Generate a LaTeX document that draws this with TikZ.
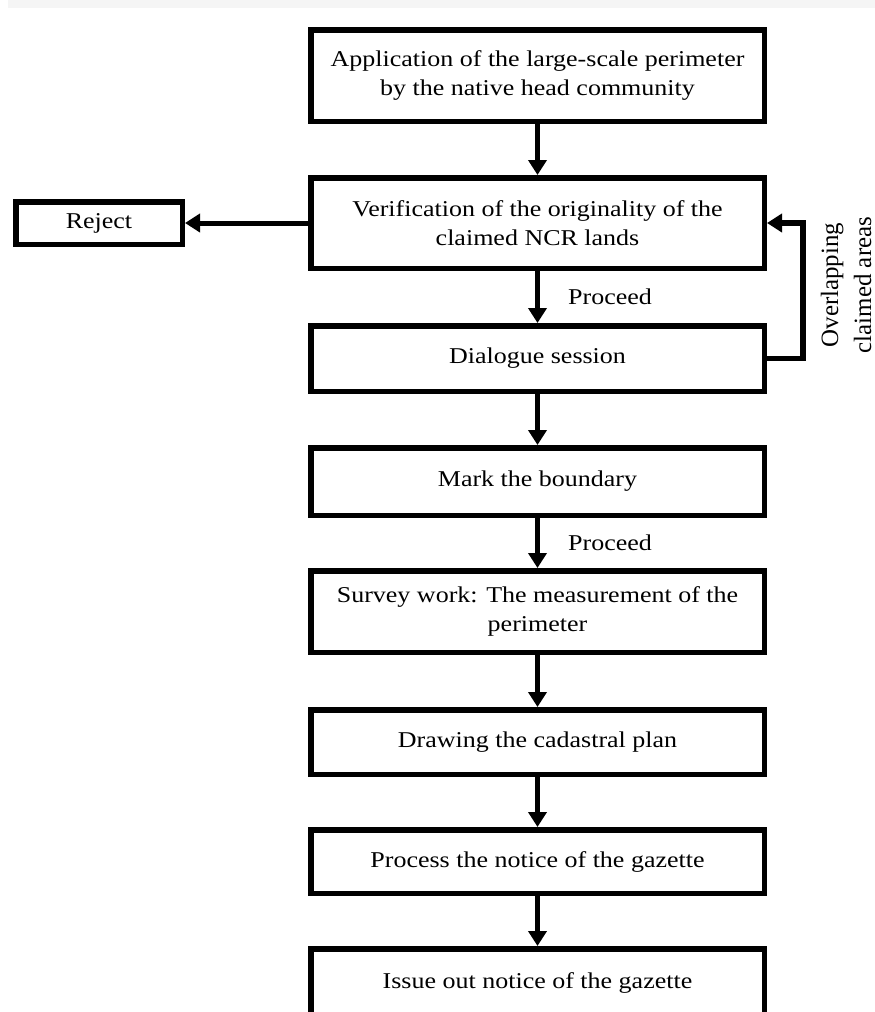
\documentclass[tikz,border=0pt]{standalone}
\usepackage{fontspec}
\setmainfont{Liberation Serif}[FakeStretch=1.15]
\newfontfamily\rotfont{Liberation Serif}
\usetikzlibrary{arrows.meta}
\tikzset{
  fbox/.style={draw=black, line width=5.5pt, rectangle, fill=white,
    minimum width=453.5pt, inner sep=0pt, align=center,
    font=\fontsize{22.6}{29}\selectfont},
  flowarrow/.style={draw=black, line width=5pt,
    -{Triangle[width=18pt,length=15pt]}},
  lbl/.style={inner sep=0pt, font=\fontsize{22.6}{29}\selectfont},
}
\begin{document}
\begin{tikzpicture}[x=1pt,y=-1pt]
\useasboundingbox (0,0) rectangle (875,1012);
\clip (0,0) rectangle (875,1012);
\fill[black!4] (8,0) rectangle (875,8);

\node[fbox, minimum height=91.5pt] (b1) at (537.5,75.5)
  {Application of the large-scale perimeter\\by the native head community};
\node[fbox, minimum height=90.5pt] (b2) at (537.5,223)
  {Verification of the originality of the\\claimed NCR lands};
\node[fbox, minimum width=166.5pt, minimum height=42.5pt] (rej) at (99,223) {Reject};
\node[fbox, minimum height=65.5pt] (b3) at (537.5,358.5) {Dialogue session};
\node[fbox, minimum height=67.5pt] (b4) at (537.5,481.5) {Mark the boundary};
\node[fbox, minimum height=81.5pt] (b5) at (537.5,611.5)
  {Survey work: The measurement of the\\perimeter};
\node[fbox, minimum height=64.5pt] (b6) at (537.5,742) {Drawing the cadastral plan};
\node[fbox, minimum height=63.5pt] (b7) at (537.5,861.5) {Process the notice of the gazette};
\node[fbox, minimum height=68.5pt] (b8) at (537.5,983) {Issue out notice of the gazette};

\draw[flowarrow] (b1) -- (b2);
\draw[flowarrow] (b2) -- (rej);
\draw[flowarrow] (b2) -- (b3);
\draw[flowarrow] (b3) -- (b4);
\draw[flowarrow] (b4) -- (b5);
\draw[flowarrow] (b5) -- (b6);
\draw[flowarrow] (b6) -- (b7);
\draw[flowarrow] (b7) -- (b8);

\coordinate (fb) at (803,290);
\draw[flowarrow, line width=5.5pt] (b3.east) -| (fb) |- (b2.east);

\node[lbl] (p1) at (610,297) {Proceed};
\node[lbl] (p2) at (610,543) {Proceed};
\node[inner sep=0pt, rotate=90, align=center,
  font=\rotfont\fontsize{24.9}{33}\selectfont] (ov) at (846,285)
  {Overlapping\\claimed areas};
\end{tikzpicture}
\end{document}
